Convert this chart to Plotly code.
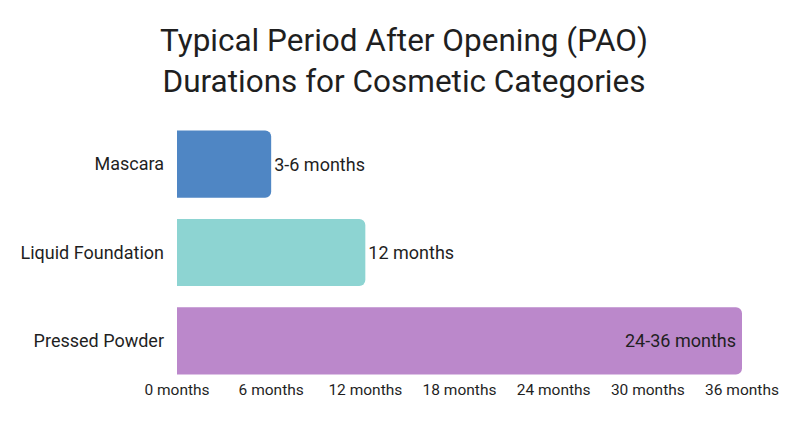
import plotly.graph_objects as go

# Data
categories = ["Mascara", "Liquid Foundation", "Pressed Powder"]
months = [6, 12, 36]
labels = ["3-6 months", "12 months", "24-36 months"]
colors = ["#4F86C4", "#8DD4D2", "#BB88CB"]
tick_vals = [0, 6, 12, 18, 24, 30, 36]
tick_text = [f"{v} months" for v in tick_vals]

font_family = "Roboto, Open Sans, sans-serif"

# page body has an 8px margin, so the figure is sized/offset to fit the window
fig_w, fig_h = 792, 439

fig = go.Figure(
    go.Bar(
        x=months,
        y=categories,
        orientation="h",
        marker=dict(color=colors, line=dict(width=0)),
        text=labels,
        textposition=["outside", "outside", "inside"],
        insidetextanchor="end",
        textfont=dict(size=18, color="#1f1f1f", family=font_family),
        outsidetextfont=dict(size=18, color="#1f1f1f", family=font_family),
        insidetextfont=dict(size=18, color="#1f1f1f", family=font_family),
        constraintext="none",
        cliponaxis=False,
    )
)

fig.update_layout(
    width=fig_w,
    height=fig_h,
    paper_bgcolor="white",
    plot_bgcolor="white",
    font=dict(family=font_family, color="#1f1f1f"),
    title=dict(
        text="Typical Period After Opening (PAO)<br>Durations for Cosmetic Categories",
        x=0.5,
        xanchor="center",
        y=1 - 43 / fig_h,
        yanchor="middle",
        font=dict(size=31.5, color="#1f1f1f", family=font_family),
    ),
    margin=dict(l=169, r=58, t=112, b=62, autoexpand=False),
    bargap=0.24,
    barcornerradius=6,
    showlegend=False,
)

fig.update_xaxes(
    range=[0, 36],
    tickvals=tick_vals,
    ticktext=tick_text,
    showgrid=False,
    zeroline=False,
    showline=False,
    automargin=False,
    ticklabelstandoff=-7,
    tickfont=dict(size=15.5, color="#1f1f1f"),
)
fig.update_yaxes(
    autorange="reversed",
    showgrid=False,
    showline=False,
    ticks="",
    automargin=False,
    ticklabelstandoff=12,
    tickfont=dict(size=18, color="#1f1f1f"),
)

fig.write_html("out.html")
